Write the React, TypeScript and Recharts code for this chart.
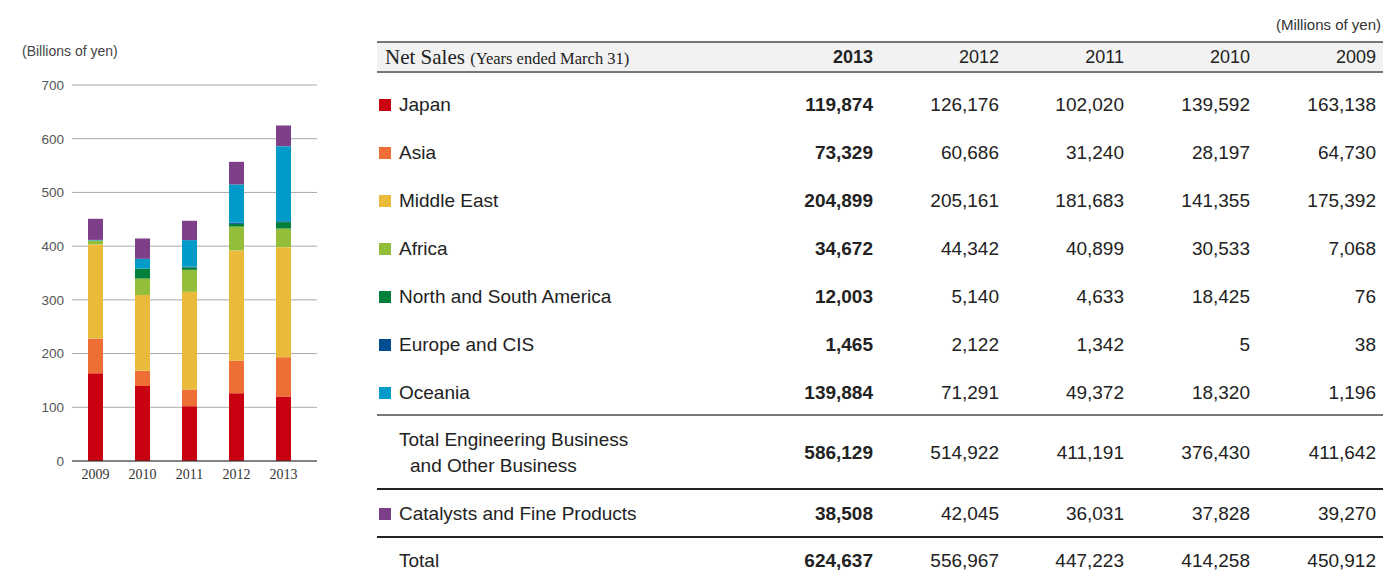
import React from 'react';
import { BarChart, Bar, XAxis, YAxis, CartesianGrid } from 'recharts';

// fiscal years, oldest first (chart order)
const YEARS = ['2009', '2010', '2011', '2012', '2013'];

// net sales by region, millions of yen, same order as YEARS
const JAPAN = [163138, 139592, 102020, 126176, 119874];
const ASIA = [64730, 28197, 31240, 60686, 73329];
const MIDDLE_EAST = [175392, 141355, 181683, 205161, 204899];
const AFRICA = [7068, 30533, 40899, 44342, 34672];
const AMERICAS = [76, 18425, 4633, 5140, 12003];
const EUROPE = [38, 5, 1342, 2122, 1465];
const OCEANIA = [1196, 18320, 49372, 71291, 139884];
const ENGINEERING_TOTAL = [411642, 376430, 411191, 514922, 586129];
const CATALYSTS = [39270, 37828, 36031, 42045, 38508];
const GRAND_TOTAL = [450912, 414258, 447223, 556967, 624637];

const Y_TICKS = [0, 100, 200, 300, 400, 500, 600, 700];

const SERIES = [
  { key: 'japan', label: 'Japan', color: '#c8000f', values: JAPAN },
  { key: 'asia', label: 'Asia', color: '#ee6f35', values: ASIA },
  { key: 'middleEast', label: 'Middle East', color: '#eabb3a', values: MIDDLE_EAST },
  { key: 'africa', label: 'Africa', color: '#94bd3a', values: AFRICA },
  { key: 'americas', label: 'North and South America', color: '#00803a', values: AMERICAS },
  { key: 'europe', label: 'Europe and CIS', color: '#004d8f', values: EUROPE },
  { key: 'oceania', label: 'Oceania', color: '#009bc9', values: OCEANIA },
];
const CATALYST_SERIES = { key: 'catalysts', label: 'Catalysts and Fine Products', color: '#7d3f87', values: CATALYSTS };

const chartData = YEARS.map((year, i) => {
  const row: { [k: string]: string | number } = { year };
  [...SERIES, CATALYST_SERIES].forEach(s => {
    row[s.key] = s.values[i] / 1000;
  });
  return row;
});

const SANS = '"Helvetica Neue", Arial, "Liberation Sans", sans-serif';
const SERIF = '"Liberation Serif", "Times New Roman", serif';
const COL_RIGHT = [873, 999, 1124, 1250, 1376];
const TABLE_LEFT = 377;
const TABLE_RIGHT = 1383;

const fmt = (n: number) => n.toLocaleString('en-US');

function Numbers({ cy, values }: { cy: number; values: number[] }) {
  // table shows newest year first
  const cols = [...values].reverse();
  return (
    <>
      {cols.map((v, i) => (
        <div
          key={i}
          style={{
            position: 'absolute', left: COL_RIGHT[i] - 150, width: 150, top: cy - 12, height: 24,
            lineHeight: '24px', textAlign: 'right', fontSize: 19, fontFamily: SANS,
            fontWeight: i === 0 ? 'bold' : 'normal', color: '#222',
          }}
        >
          {fmt(v)}
        </div>
      ))}
    </>
  );
}

function Label({ cy, text, color, indent }: { cy: number; text: string; color?: string; indent?: number }) {
  return (
    <>
      {color && (
        <div style={{ position: 'absolute', left: 379, top: cy - 6, width: 12, height: 12, background: color }} />
      )}
      <div
        style={{
          position: 'absolute', left: 399 + (indent || 0), top: cy - 12, height: 24, lineHeight: '24px',
          fontSize: 19, fontFamily: SANS, color: '#222', whiteSpace: 'nowrap',
        }}
      >
        {text}
      </div>
    </>
  );
}

function Rule({ y, color, w }: { y: number; color: string; w: number }) {
  return <div style={{ position: 'absolute', left: TABLE_LEFT, width: TABLE_RIGHT - TABLE_LEFT, top: y, height: w, background: color }} />;
}

export default function App() {
  const rowY = [105, 153, 201, 249, 297, 345, 393];
  return (
    <div style={{ position: 'absolute', left: 0, top: 0, width: 1387, height: 579, background: '#fff', overflow: 'hidden' }}>
      <div style={{ position: 'absolute', left: 22, top: 42, height: 18, lineHeight: '18px', fontSize: 14, fontFamily: SANS, color: '#444' }}>(Billions of yen)</div>
      <div style={{ position: 'absolute', left: 0, top: 70 }}>
        <BarChart width={330} height={420} data={chartData} margin={{ top: 15, right: 13, left: 0, bottom: 0 }}>
          <CartesianGrid vertical={false} stroke="#aaa" />
          <XAxis
            dataKey="year"
            height={29}
            padding={{ left: 0, right: 10 }}
            tickLine={false}
            axisLine={{ stroke: '#333' }}
            tick={{ fontFamily: SERIF, fontSize: 14, fill: '#333' }}
          />
          <YAxis
            width={72}
            domain={[0, 700]}
            ticks={Y_TICKS}
            axisLine={false}
            tickLine={false}
            tick={{ fontFamily: SANS, fontSize: 13.5, fill: '#555' }}
          />
          {[...SERIES, CATALYST_SERIES].map(s => (
            <Bar key={s.key} dataKey={s.key} stackId="a" fill={s.color} barSize={15} isAnimationActive={false} />
          ))}
        </BarChart>
      </div>

      <div style={{ position: 'absolute', right: 6, top: 15, height: 20, lineHeight: '20px', fontSize: 15, fontFamily: SANS, color: '#333' }}>(Millions of yen)</div>

      {/* header band */}
      <div style={{ position: 'absolute', left: TABLE_LEFT, width: TABLE_RIGHT - TABLE_LEFT, top: 42, height: 30, background: '#f2f2f2' }} />
      <Rule y={41} color="#777" w={2} />
      <Rule y={71} color="#777" w={2} />
      <div style={{ position: 'absolute', left: 385, top: 44, height: 26, lineHeight: '26px', fontFamily: SERIF, color: '#222', whiteSpace: 'nowrap' }}>
        <span style={{ fontSize: 21 }}>Net Sales </span>
        <span style={{ fontSize: 16.5 }}>(Years ended March 31)</span>
      </div>
      {[...YEARS].reverse().map((y, i) => (
        <div
          key={y}
          style={{
            position: 'absolute', left: COL_RIGHT[i] - 100, width: 100, top: 45, height: 24, lineHeight: '24px',
            textAlign: 'right', fontSize: 18, fontFamily: SANS, fontWeight: i === 0 ? 'bold' : 'normal', color: '#222',
          }}
        >
          {y}
        </div>
      ))}

      {SERIES.map((s, i) => (
        <React.Fragment key={s.key}>
          <Label cy={rowY[i]} text={s.label} color={s.color} />
          <Numbers cy={rowY[i]} values={s.values} />
        </React.Fragment>
      ))}

      <Rule y={414} color="#777" w={1.5} />
      <Label cy={440} text="Total Engineering Business" />
      <Label cy={466} text="and Other Business" indent={11} />
      <Numbers cy={453} values={ENGINEERING_TOTAL} />

      <Rule y={488} color="#222" w={1.5} />
      <Label cy={514} text={CATALYST_SERIES.label} color={CATALYST_SERIES.color} />
      <Numbers cy={514} values={CATALYSTS} />

      <Rule y={536} color="#222" w={1.5} />
      <Label cy={561} text="Total" />
      <Numbers cy={561} values={GRAND_TOTAL} />
    </div>
  );
}
